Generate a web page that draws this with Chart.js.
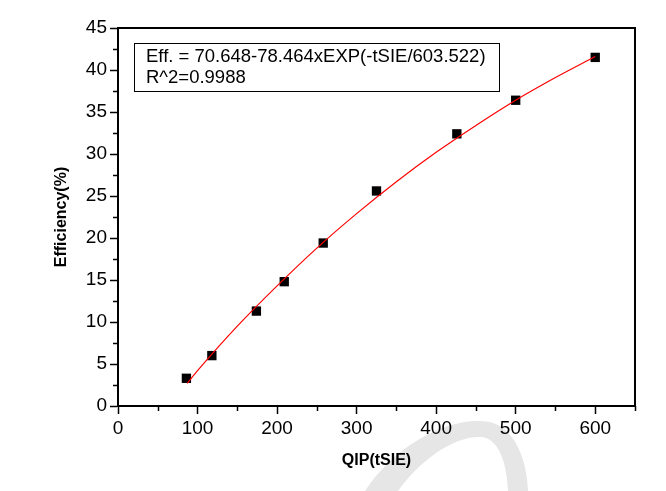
<!DOCTYPE html>
<html>
<head>
<meta charset="utf-8">
<script src="https://cdn.jsdelivr.net/npm/chart.js@4.4.1/dist/chart.umd.min.js"></script>
<style>
  html, body { margin: 0; padding: 0; background: #fff; }
  #wrap { width: 666px; height: 491px; position: relative; }
</style>
</head>
<body>
<div id="wrap"><canvas id="c" width="666" height="491"></canvas></div>
<script>
// Measured points (QIP in tSIE, Efficiency in %)
const qipValues = [86, 118, 174, 209, 258, 325, 426, 500, 600];
const efficiencyValues = [3.3, 6.0, 11.3, 14.8, 19.4, 25.6, 32.4, 36.4, 41.5];

// Fitted curve (red line)
const fitX = [87, 100, 150, 200, 250, 300, 350, 400, 450, 500, 550, 600];
const fitY = [2.7, 4.2, 9.5, 14.3, 18.8, 22.9, 26.7, 30.2, 33.4, 36.4, 39.1, 41.6];

const xTickValues = [0, 100, 200, 300, 400, 500, 600];
const yTickValues = [0, 5, 10, 15, 20, 25, 30, 35, 40, 45];
const xMinorTicks = [50, 150, 250, 350, 450, 550, 650];
const yMinorTicks = [2.5, 7.5, 12.5, 17.5, 22.5, 27.5, 32.5, 37.5, 42.5];

const fitLines = ["Eff. = 70.648-78.464xEXP(-tSIE/603.522)", "R^2=0.9988"];
const xTitle = "QIP(tSIE)";
const yTitle = "Efficiency(%)";

const FONT = "'Liberation Sans', Arial, sans-serif";

const watermark = {
  id: 'watermark',
  beforeDraw(chart) {
    const ctx = chart.ctx;
    ctx.save();
    ctx.fillStyle = '#e6e6e6';
    ctx.beginPath();
    ctx.moveTo(365, 491);
    ctx.bezierCurveTo(395, 445, 450, 415, 490, 422);
    ctx.bezierCurveTo(515, 428, 527, 460, 528, 491);
    ctx.lineTo(508, 491);
    ctx.bezierCurveTo(507, 465, 500, 440, 482, 437);
    ctx.bezierCurveTo(455, 435, 420, 460, 398, 491);
    ctx.closePath();
    ctx.fill();
    ctx.restore();
  }
};

const frame = {
  id: 'frame',
  afterDraw(chart) {
    const ctx = chart.ctx;
    const a = chart.chartArea;
    const xs = chart.scales.x, ys = chart.scales.y;
    ctx.save();
    ctx.strokeStyle = '#000';
    ctx.lineWidth = 2;
    ctx.beginPath();
    ctx.moveTo(a.left - 1, a.top);
    ctx.lineTo(a.right, a.top);
    ctx.lineTo(a.right, a.bottom);
    ctx.stroke();
    // minor ticks
    ctx.lineWidth = 1.5;
    ctx.beginPath();
    xMinorTicks.forEach(v => {
      const px = Math.round(xs.getPixelForValue(v)) + 0.5;
      ctx.moveTo(px, a.bottom);
      ctx.lineTo(px, a.bottom + 5);
    });
    yMinorTicks.forEach(v => {
      const py = Math.round(ys.getPixelForValue(v)) + 0.5;
      ctx.moveTo(a.left, py);
      ctx.lineTo(a.left - 5, py);
    });
    ctx.stroke();
    // fit equation box
    const bx = a.left + 16, by = a.top + 15, bw = 365, bh = 48;
    ctx.lineWidth = 1;
    ctx.strokeRect(bx + 0.5, by + 0.5, bw, bh);
    ctx.fillStyle = '#000';
    ctx.font = "18.5px " + FONT;
    ctx.textBaseline = 'middle';
    ctx.textAlign = 'left';
    fitLines.forEach((t, i) => ctx.fillText(t, bx + 12, by + 14 + i * 21));
    ctx.restore();
  }
};

new Chart(document.getElementById('c'), {
  type: 'scatter',
  data: {
    datasets: [
      {
        type: 'line',
        label: 'Fit',
        data: fitX.map((x, i) => ({ x, y: fitY[i] })),
        borderColor: '#ff0000',
        borderWidth: 1.2,
        pointRadius: 0,
        fill: false,
        cubicInterpolationMode: 'monotone'
      },
      {
        label: 'Data',
        data: qipValues.map((x, i) => ({ x, y: efficiencyValues[i] })),
        pointStyle: 'rect',
        pointRadius: 6.6,
        backgroundColor: '#000',
        borderColor: '#000',
        borderWidth: 0
      }
    ]
  },
  options: {
    responsive: false,
    animation: false,
    devicePixelRatio: 1,
    layout: { padding: { left: 0, top: 28, right: 31, bottom: 0 } },
    plugins: { legend: { display: false }, tooltip: { enabled: false } },
    scales: {
      x: {
        type: 'linear',
        min: 0, max: 650,
        afterBuildTicks: s => { s.ticks = xTickValues.map(v => ({ value: v })); },
        afterFit: s => { s.height = 85; },
        grid: { drawOnChartArea: false, drawTicks: true, tickLength: 8, tickWidth: 1.5, tickColor: '#000' },
        border: { display: true, color: '#000', width: 2 },
        ticks: { color: '#000', font: { family: FONT, size: 19 }, padding: 3, maxRotation: 0 },
        title: { display: true, text: xTitle, color: '#000', font: { family: FONT, size: 16, weight: 'bold' }, padding: { bottom: 21, top: 0 } }
      },
      y: {
        type: 'linear',
        min: 0, max: 45,
        afterBuildTicks: s => { s.ticks = yTickValues.map(v => ({ value: v })); },
        afterFit: s => { s.width = 118; },
        grid: { drawOnChartArea: false, drawTicks: true, tickLength: 8, tickWidth: 1.5, tickColor: '#000' },
        border: { display: true, color: '#000', width: 2 },
        ticks: { color: '#000', font: { family: FONT, size: 19 }, padding: 3 },
        title: { display: true, text: yTitle, color: '#000', font: { family: FONT, size: 16, weight: 'bold' }, padding: { top: 52, bottom: 0 } }
      }
    }
  },
  plugins: [watermark, frame]
});
</script>
</body>
</html>
